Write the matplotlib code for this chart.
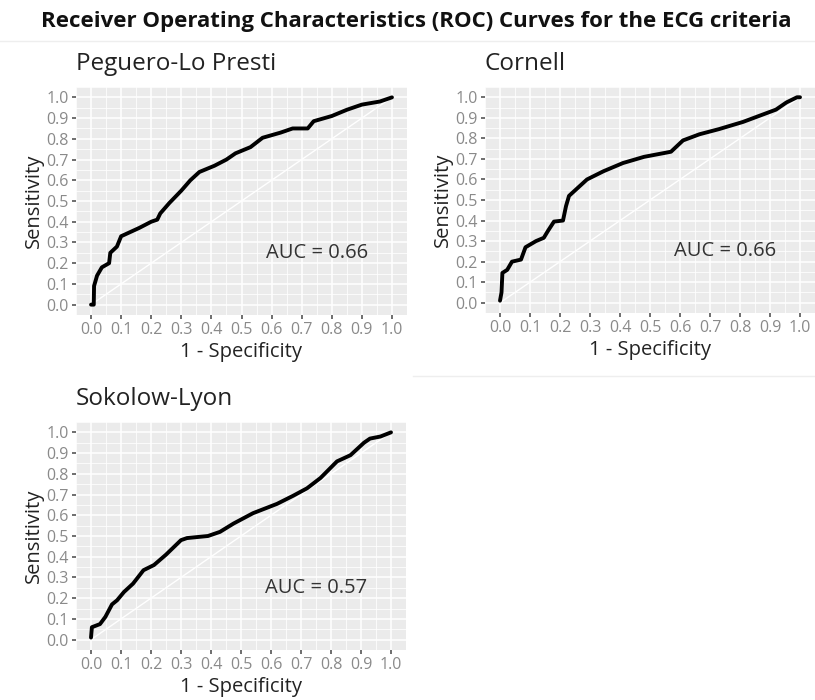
import matplotlib
matplotlib.use("Agg")
import matplotlib.pyplot as plt
from matplotlib import font_manager
from matplotlib.lines import Line2D
import numpy as np

# ---------------- data ----------------
peguero_fpr = [0.0, 0.009, 0.01, 0.02, 0.036, 0.06, 0.064, 0.086, 0.10, 0.13, 0.16, 0.20, 0.22,
               0.23, 0.26, 0.30, 0.33, 0.36, 0.41, 0.45, 0.48, 0.53, 0.57, 0.63, 0.67, 0.72,
               0.74, 0.80, 0.85, 0.90, 0.96, 1.0]
peguero_tpr = [0.0, 0.0, 0.09, 0.14, 0.18, 0.20, 0.25, 0.28, 0.33, 0.35, 0.37, 0.40, 0.41,
               0.44, 0.49, 0.55, 0.60, 0.64, 0.67, 0.70, 0.73, 0.76, 0.805, 0.83, 0.85, 0.85,
               0.885, 0.91, 0.94, 0.965, 0.98, 1.0]

cornell_fpr = [0.0, 0.005, 0.008, 0.024, 0.04, 0.07, 0.085, 0.12, 0.146, 0.16, 0.18, 0.21,
               0.22, 0.23, 0.26, 0.29, 0.345, 0.41, 0.48, 0.57, 0.61, 0.665, 0.73, 0.81,
               0.865, 0.92, 0.955, 0.99, 1.0]
cornell_tpr = [0.01, 0.05, 0.145, 0.16, 0.20, 0.21, 0.27, 0.30, 0.316, 0.35, 0.395, 0.40,
               0.47, 0.52, 0.56, 0.60, 0.64, 0.68, 0.71, 0.735, 0.79, 0.82, 0.845, 0.88,
               0.91, 0.94, 0.975, 1.0, 1.0]

sokolow_fpr = [0.0, 0.003, 0.03, 0.048, 0.07, 0.087, 0.11, 0.14, 0.175, 0.21, 0.25, 0.30,
               0.32, 0.39, 0.43, 0.475, 0.54, 0.62, 0.675, 0.72, 0.765, 0.82, 0.865, 0.91,
               0.93, 0.965, 1.0]
sokolow_tpr = [0.01, 0.06, 0.075, 0.11, 0.17, 0.19, 0.23, 0.27, 0.335, 0.36, 0.41, 0.48,
               0.49, 0.50, 0.52, 0.56, 0.61, 0.655, 0.695, 0.73, 0.78, 0.86, 0.89, 0.95,
               0.97, 0.98, 1.0]

panel_titles = ["Peguero-Lo Presti", "Cornell", "Sokolow-Lyon"]
auc_labels = ["AUC = 0.66", "AUC = 0.66", "AUC = 0.57"]
tick_values = [0.0, 0.1, 0.2, 0.3, 0.4, 0.5, 0.6, 0.7, 0.8, 0.9, 1.0]
tick_labels = ["0.0", "0.1", "0.2", "0.3", "0.4", "0.5", "0.6", "0.7", "0.8", "0.9", "1.0"]
main_title = "Receiver Operating Characteristics (ROC) Curves for the ECG criteria"

# ---------------- fonts ----------------
avail = {f.name for f in font_manager.fontManager.ttflist}
base_font = "Open Sans" if "Open Sans" in avail else "DejaVu Sans"
plt.rcParams["font.family"] = [base_font, "DejaVu Sans"]

W, H = 815, 700
fig = plt.figure(figsize=(W / 100, H / 100), dpi=100)

def fr(x0, y0, x1, y1):
    return [x0 / W, 1 - y1 / H, (x1 - x0) / W, (y1 - y0) / H]

panels = [
    (fr(76, 87, 407, 315), peguero_fpr, peguero_tpr),
    (fr(485, 87, 815, 313), cornell_fpr, cornell_tpr),
    (fr(76, 422, 406, 650), sokolow_fpr, sokolow_tpr),
]

for i, (rect, fx, ty) in enumerate(panels):
    ax = fig.add_axes(rect)
    ax.set_facecolor("#ebebeb")
    for s in ax.spines.values():
        s.set_visible(False)
    ax.set_xlim(-0.05, 1.05)
    ax.set_ylim(-0.05, 1.05)
    ax.set_xticks(tick_values)
    ax.set_xticklabels(tick_labels)
    ax.set_yticks(tick_values)
    ax.set_yticklabels(tick_labels)
    ax.set_xticks(np.arange(-0.05, 1.06, 0.1), minor=True)
    ax.set_yticks(np.arange(-0.05, 1.06, 0.1), minor=True)
    ax.grid(which="major", color="white", linewidth=1.1)
    ax.grid(which="minor", color="white", linewidth=0.55)
    ax.tick_params(which="minor", length=0)
    ax.tick_params(which="major", length=3, width=1.2, color="#555555",
                   labelsize=11.5, labelcolor="#8a8a8a", pad=2)
    ax.set_axisbelow(True)
    ax.plot([0, 1], [0, 1], color="white", linewidth=1.0, zorder=2)
    ax.plot(fx, ty, color="black", linewidth=2.8, solid_joinstyle="round",
            solid_capstyle="round", zorder=3)
    ax.text(0.75, 0.25, auc_labels[i], ha="center", va="center", fontsize=14.5,
            color="#333333")
    ax.set_xlabel("1 - Specificity", fontsize=14.5, color="#222222", labelpad=3)
    ax.set_ylabel("Sensitivity", fontsize=14.5, color="#222222", labelpad=2)
    ax.set_title(panel_titles[i], loc="left", fontsize=17.5, color="#222222", pad=12)

fig.text(416 / W, 1 - 22 / H, main_title, ha="center", va="center", fontsize=16,
         fontweight="bold", color="#111111")
fig.add_artist(Line2D([0.0, 1.0], [1 - 41 / H, 1 - 41 / H], color="#eeeeee",
                      linewidth=1.0, transform=fig.transFigure))
fig.add_artist(Line2D([413 / W, 1.0], [1 - 376 / H, 1 - 376 / H], color="#eeeeee",
                      linewidth=1.0, transform=fig.transFigure))

fig.savefig("out.png", dpi=100)
